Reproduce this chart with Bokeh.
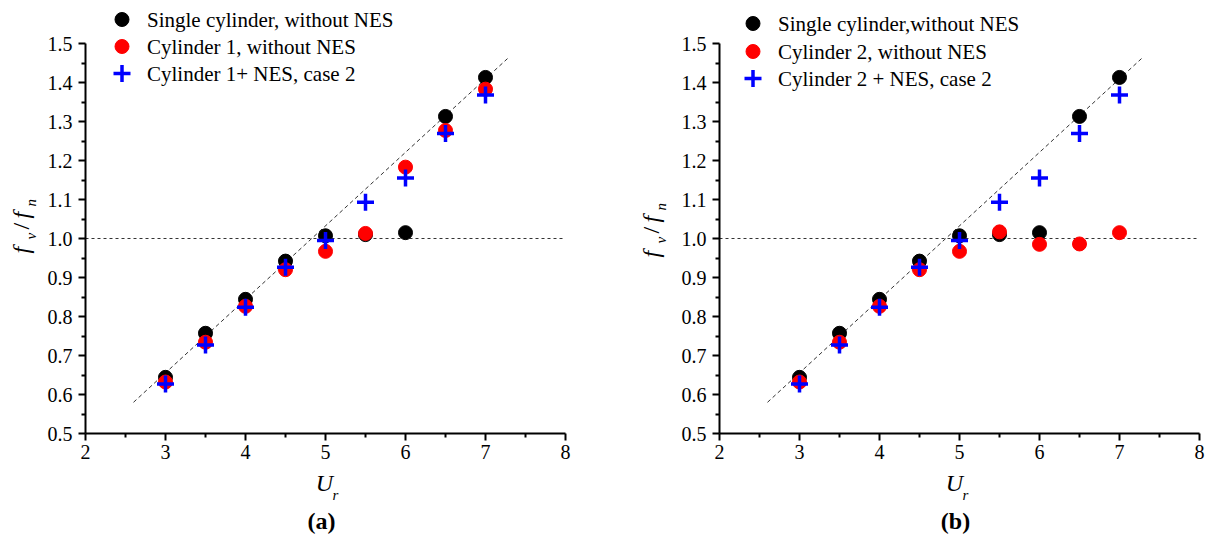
from math import pi

from bokeh.core.properties import value
from bokeh.embed import file_html
from bokeh.layouts import row
from bokeh.models import FixedTicker, LinearAxis, NumeralTickFormatter, Range1d
from bokeh.plotting import figure
from bokeh.resources import INLINE

# Reduced velocity
ur = [3.0, 3.5, 4.0, 4.5, 5.0, 5.5, 6.0, 6.5, 7.0]

# Frequency ratio f_v / f_n
single_no_nes = [0.644, 0.757, 0.844, 0.942, 1.007, 1.010, 1.015, 1.313, 1.413]
cyl1_no_nes = [0.632, 0.734, 0.826, 0.920, 0.967, 1.013, 1.183, 1.277, 1.383]
cyl1_nes = [0.627, 0.727, 0.824, 0.926, 0.995, 1.093, 1.155, 1.269, 1.368]
cyl2_no_nes = [0.632, 0.734, 0.826, 0.920, 0.967, 1.017, 0.985, 0.986, 1.015]
cyl2_nes = [0.627, 0.727, 0.824, 0.926, 0.995, 1.093, 1.155, 1.269, 1.368]

# Guide lines: Strouhal trend and f_v = f_n
trend_ur = [2.6, 7.3]
trend_f = [0.580, 1.466]
unity_ur = [2.0, 8.0]
unity_f = [1.0, 1.0]

x_ticks = [2, 3, 4, 5, 6, 7, 8]
x_minor = [2.5, 3.5, 4.5, 5.5, 6.5, 7.5]
y_ticks = [0.5, 0.6, 0.7, 0.8, 0.9, 1.0, 1.1, 1.2, 1.3, 1.4, 1.5]
y_minor = [0.55, 0.65, 0.75, 0.85, 0.95, 1.05, 1.15, 1.25, 1.35, 1.45]

legend_a = ["Single cylinder, without NES", "Cylinder 1, without NES", "Cylinder 1+ NES, case 2"]
legend_b = ["Single cylinder,without NES", "Cylinder 2, without NES", "Cylinder 2 + NES, case 2"]

SERIF = "Liberation Serif"
W, H = 605, 535
PX_X = 80.0      # pixels per unit of U_r
PX_Y = 390.0     # pixels per unit of f_v/f_n
Y0_PIX = 433.0   # pixel row of f_v/f_n = 0.5


def txt(p, x, y, s, size, style="normal", angle=0.0, align="left", baseline="middle"):
    p.text([x], [y], text=[s], angle=angle, text_font=value(SERIF), text_font_size=size,
           text_font_style=style, text_align=align, text_baseline=baseline, text_color="black")


def panel(series, labels, tag, frame_left, leg_x, leg_rows, ylab_dx, ylab_dy, xlab_x, tag_x):
    # the plotting area spans the whole canvas; axes sit at U_r = 2 and f = 0.5
    def dx(px):
        return 2.0 + (px - frame_left) / PX_X

    def dy(py):
        return 0.5 + (Y0_PIX - py) / PX_Y

    p = figure(width=W, height=H, output_backend="svg", toolbar_location=None,
               x_range=Range1d(dx(0), dx(W)), y_range=Range1d(dy(H), dy(0)),
               x_axis_location=None, y_axis_location=None,
               min_border_left=0, min_border_right=0, min_border_top=0, min_border_bottom=0)
    p.outline_line_color = None
    p.grid.visible = False
    p.background_fill_color = "white"
    p.border_fill_color = "white"

    xax = LinearAxis(fixed_location=0.5, ticker=FixedTicker(ticks=x_ticks, minor_ticks=x_minor),
                     bounds=(2, 8))
    yax = LinearAxis(fixed_location=2.0, ticker=FixedTicker(ticks=y_ticks, minor_ticks=y_minor),
                     formatter=NumeralTickFormatter(format="0.0"), bounds=(0.5, 1.5))
    for ax in (xax, yax):
        ax.axis_line_width = 2
        ax.axis_line_color = "black"
        ax.major_tick_line_width = 2
        ax.minor_tick_line_width = 2
        ax.major_tick_line_color = "black"
        ax.minor_tick_line_color = "black"
        ax.major_tick_out = 7
        ax.major_tick_in = 0
        ax.minor_tick_out = 4
        ax.minor_tick_in = 0
        ax.major_label_text_font = SERIF
        ax.major_label_text_font_size = "20px"
        ax.major_label_text_color = "black"
    xax.major_label_standoff = 4
    yax.major_label_standoff = 6
    p.add_layout(xax, "below")
    p.add_layout(yax, "left")

    p.line(trend_ur, trend_f, line_color="#333333", line_width=1, line_dash="4 3")
    p.line(unity_ur, unity_f, line_color="#333333", line_width=1, line_dash="3 3")

    single, no_nes, with_nes = series
    p.scatter(ur, single, marker="circle", size=14, fill_color="black", line_color="black")
    p.scatter(ur, no_nes, marker="circle", size=14, fill_color="#ff0000", line_color="#ff0000")
    p.scatter(ur, with_nes, marker="cross", size=17, line_color="#0000ff", line_width=3.5)

    # key
    kx = [dx(leg_x)] * 3
    ky = [dy(r) for r in leg_rows]
    p.scatter(kx[:1], ky[:1], marker="circle", size=14, fill_color="black", line_color="black")
    p.scatter(kx[1:2], ky[1:2], marker="circle", size=14, fill_color="#ff0000", line_color="#ff0000")
    p.scatter(kx[2:], ky[2:], marker="cross", size=17, line_color="#0000ff", line_width=3.5)
    p.text([dx(leg_x + 25)] * 3, ky, text=labels, text_font=value(SERIF), text_font_size="21px",
           text_baseline="middle", text_align="left", text_color="black")

    # y axis title: f_v / f_n, read bottom to top
    pieces = [("f", 0, 0, "24px", "italic"), ("v", 14, 10, "15px", "italic"),
              ("/", 24, 0, "24px", "normal"), ("f", 35, 0, "24px", "italic"),
              ("n", 47, 10, "15px", "italic")]
    for s, up, right, size, style in pieces:
        txt(p, dx(ylab_dx + right), dy(ylab_dy - up), s, size, style, angle=pi / 2)

    # x axis title: U_r
    txt(p, dx(xlab_x), dy(482), "U", "24px", "italic", align="center")
    txt(p, dx(xlab_x + 11), dy(494), "r", "15px", "italic", align="center")

    # panel tag
    txt(p, dx(tag_x), dy(520), tag, "24px", "bold", align="center")
    return p


pa = panel((single_no_nes, cyl1_no_nes, cyl1_nes), legend_a, "(a)",
           frame_left=85, leg_x=121.5, leg_rows=[19, 46, 73],
           ylab_dx=20, ylab_dy=253, xlab_x=324, tag_x=321)
pb = panel((single_no_nes, cyl2_no_nes, cyl2_nes), legend_b, "(b)",
           frame_left=114, leg_x=147.5, leg_rows=[23, 51, 78],
           ylab_dx=45, ylab_dy=257, xlab_x=349, tag_x=350)

layout = row(pa, pb)
open("out.html", "w").write(file_html(layout, INLINE))
